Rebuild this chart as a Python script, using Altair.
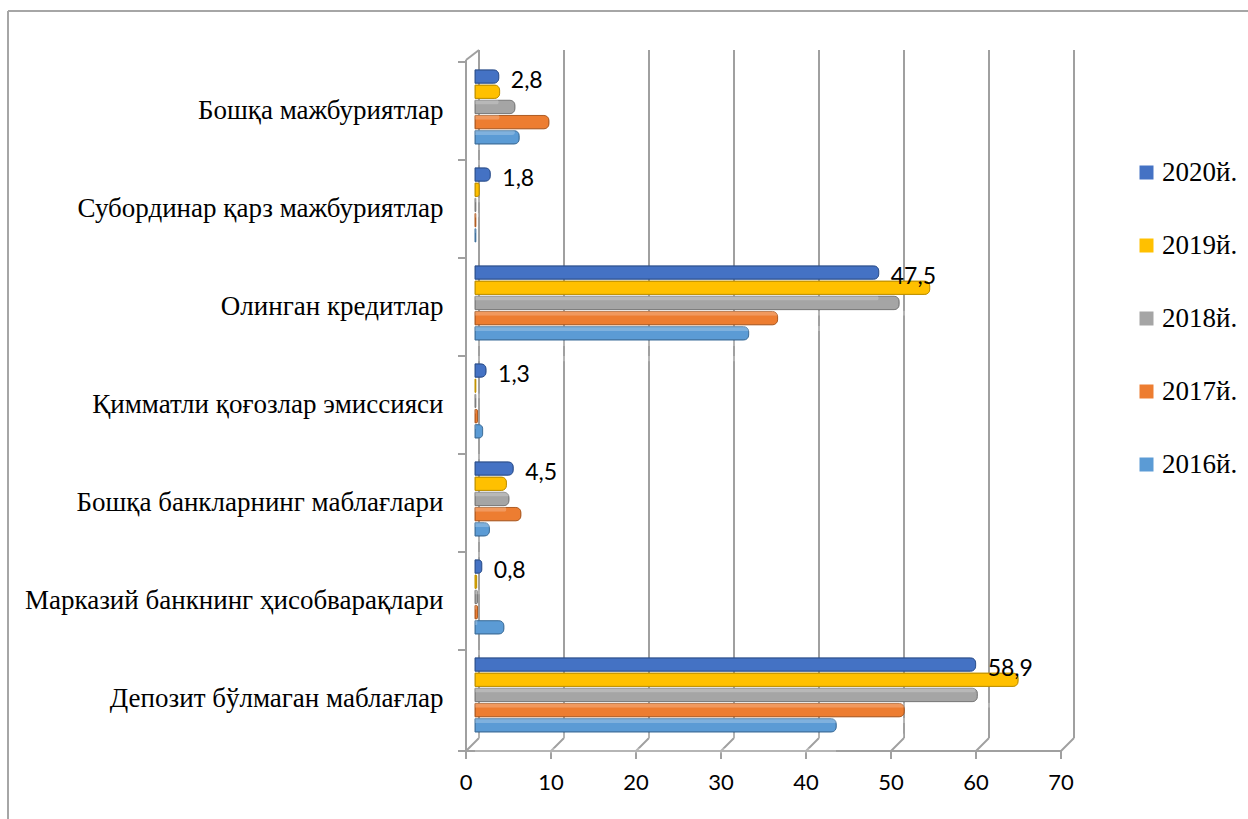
import altair as alt
import pandas as pd

categories = [
    "Бошқа мажбуриятлар",
    "Субординар қарз мажбуриятлар",
    "Олинган кредитлар",
    "Қимматли қоғозлар эмиссияси",
    "Бошқа банкларнинг маблағлари",
    "Марказий банкнинг ҳисобварақлари",
    "Депозит бўлмаган маблағлар",
]
years = ["2020й.", "2019й.", "2018й.", "2017й.", "2016й."]
v2020 = [2.8, 1.8, 47.5, 1.3, 4.5, 0.8, 58.9]
v2019 = [2.9, 0.5, 53.5, 0.1, 3.7, 0.2, 63.9]
v2018 = [4.7, 0.1, 49.9, 0.1, 4.0, 0.3, 59.1]
v2017 = [8.7, 0.1, 35.6, 0.3, 5.4, 0.3, 50.5]
v2016 = [5.2, 0.1, 32.2, 0.9, 1.7, 3.4, 42.5]
ticks = [0, 10, 20, 30, 40, 50, 60, 70]

colors = ["#4472C4", "#FFC000", "#A5A5A5", "#ED7D31", "#5B9BD5"]
edge_colors = ["#2F528F", "#BF9000", "#7B7B7B", "#AE5A21", "#41719C"]

rows = []
for yr, vals in zip(years, [v2020, v2019, v2018, v2017, v2016]):
    for c, v in zip(categories, vals):
        rows.append({"cat": c, "year": yr, "value": v})
df = pd.DataFrame(rows)
labels_df = pd.DataFrame({
    "cat": categories,
    "year": [years[0]] * len(categories),
    "value": v2020,
    "label": [f"{v:.1f}".replace(".", ",") for v in v2020],
})
ticks_df = pd.DataFrame({"v": ticks})
one = pd.DataFrame({"a": [0]})

W, H = 595, 686
GRID = "#a0a0a0"
xs = alt.Scale(domain=[0, 70], nice=False, zero=True)
ys = alt.Scale(domain=categories, paddingInner=0, paddingOuter=0)
yo = alt.Scale(domain=years, paddingInner=0.12, paddingOuter=0.785, align=0.33)
y_axis = alt.Axis(
    title=None, labelFont="Liberation Serif", labelFontSize=27,
    labelColor="black", ticks=False, domain=False, labelPadding=32,
    labelLimit=600, grid=False,
)
Y = alt.Y("cat:N", scale=ys, sort=categories, axis=y_axis)
YO = alt.YOffset("year:N", scale=yo, sort=years)

grid = alt.Chart(ticks_df).mark_rule(color=GRID, strokeWidth=2, xOffset=4).encode(
    x=alt.X("v:Q", scale=xs, axis=None), y=alt.value(-12), y2=alt.value(676)
)
conn = alt.Chart(ticks_df).mark_rule(color=GRID, strokeWidth=2, xOffset=4, x2Offset=-9).encode(
    x=alt.X("v:Q", scale=xs, axis=None), x2="v:Q", y=alt.value(676), y2=alt.value(689)
)
floor_ticks = alt.Chart(ticks_df).mark_rule(color=GRID, strokeWidth=2, xOffset=-9).encode(
    x=alt.X("v:Q", scale=xs, axis=None), y=alt.value(689), y2=alt.value(697)
)
floor_line = alt.Chart(one).mark_rule(color=GRID, strokeWidth=2).encode(
    x=alt.value(-17), x2=alt.value(586), y=alt.value(689)
)
left_edge = alt.Chart(one).mark_rule(color=GRID, strokeWidth=2).encode(
    x=alt.value(-9), y=alt.value(-2), y2=alt.value(689)
)
top_slant = alt.Chart(one).mark_rule(color=GRID, strokeWidth=2).encode(
    x=alt.value(-9), x2=alt.value(4), y=alt.value(-2), y2=alt.value(-12)
)
cat_ticks = alt.Chart(pd.DataFrame({"cat": categories})).mark_rule(color=GRID, strokeWidth=2).encode(
    y=alt.Y("cat:N", scale=ys, sort=categories, bandPosition=0, axis=y_axis),
    x=alt.value(-17), x2=alt.value(-9),
)
frame_v = alt.Chart(one).mark_rule(color="#a6a6a6", strokeWidth=2).encode(
    x=alt.value(-467), y=alt.value(-51), y2=alt.value(760)
)
frame_h = alt.Chart(one).mark_rule(color="#a6a6a6", strokeWidth=2).encode(
    x=alt.value(-467), x2=alt.value(780), y=alt.value(-51)
)
xlabels = alt.Chart(ticks_df).mark_text(
    font="Lato", fontSize=22, color="black", xOffset=-9, baseline="middle"
).encode(x=alt.X("v:Q", scale=xs, axis=None), y=alt.value(721), text="v:Q")

bars = alt.Chart(df).mark_bar(cornerRadiusEnd=5, strokeWidth=1).encode(
    x=alt.X("value:Q", scale=xs, axis=None),
    y=Y,
    yOffset=YO,
    fill=alt.Fill(
        "year:N", scale=alt.Scale(domain=years, range=colors),
        legend=alt.Legend(
            title=None, orient="none", legendX=658, legendY=97,
            labelFont="Liberation Serif", labelFontSize=27, labelColor="black",
            symbolType="square", symbolSize=196, symbolStrokeWidth=0,
            rowPadding=45, labelOffset=2, padding=0,
        ),
    ),
    stroke=alt.Stroke("year:N", scale=alt.Scale(domain=years, range=edge_colors), legend=None),
)

shine = alt.Chart(df).mark_bar(
    color="white", opacity=0.22, cornerRadiusEnd=3, height={"band": 0.4}, yOffset=-2
).encode(
    x=alt.X("value:Q", scale=xs, axis=None),
    y=Y,
    yOffset=YO,
)

dlabels = alt.Chart(labels_df).mark_text(
    font="Lato", fontSize=23, color="black", align="left", baseline="middle", dx=12, dy=4
).encode(
    x=alt.X("value:Q", scale=xs, axis=None),
    y=Y,
    yOffset=YO,
    text="label:N",
)

chart = alt.layer(
    frame_v, frame_h, grid, conn, floor_line, floor_ticks, left_edge, top_slant,
    cat_ticks, xlabels, bars, shine, dlabels,
).properties(
    width=W, height=H,
    padding={"left": 475, "top": 62, "right": 1248 - 475 - W, "bottom": 819 - 62 - H},
    autosize=alt.AutoSizeParams(type="none"),
    background="white",
).configure_view(stroke=None)

chart.save("out.html", embed_options={"renderer": "svg", "actions": False})
